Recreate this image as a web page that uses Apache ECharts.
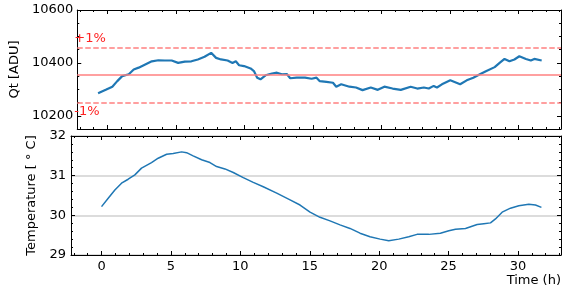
<!DOCTYPE html>
<html>
<head>
<meta charset="utf-8">
<script src="https://cdn.jsdelivr.net/npm/echarts@6/dist/echarts.min.js"></script>
<style>
  html, body { margin: 0; padding: 0; background: #fff; }
  #chart { width: 562px; height: 296px; }
</style>
</head>
<body>
<div id="chart"></div>
<script>
// Qt readout (top panel)
const qtTime = [-0.68, -0.12, 0.36, 0.72, 1.08, 1.56, 1.92, 2.28, 2.76, 3.24, 3.72, 4.2, 4.69, 5.16, 5.65, 6.13,
    6.6, 7.09, 7.57, 7.93, 8.29, 8.77, 9.13, 9.37, 9.61, 9.97, 10.45, 10.69, 10.93, 11.17, 11.54, 12.01,
    12.37, 12.73, 13.09, 13.34, 13.81, 14.42, 14.9, 15.26, 15.5, 15.98, 16.46, 16.7, 17.06, 17.66, 18.14,
    18.62, 19.22, 19.73, 20.21, 20.81, 21.41, 22.13, 22.61, 23.09, 23.45, 23.81, 24.05, 24.41, 25.02,
    25.74, 26.22, 26.7, 27.18, 27.66, 28.26, 28.62, 28.98, 29.34, 29.7, 30.06, 30.54, 30.9, 31.15, 31.69];
const qtValue = [10285, 10298, 10310, 10331, 10350, 10357, 10375, 10382, 10394, 10406, 10410, 10409, 10409, 10400, 10405, 10406,
    10413, 10423, 10438, 10419, 10413, 10409, 10400, 10406, 10391, 10388, 10379, 10369, 10344, 10338, 10353, 10360,
    10363, 10357, 10358, 10342, 10344, 10344, 10340, 10344, 10331, 10328, 10325, 10310, 10319, 10310, 10307,
    10297, 10307, 10298, 10310, 10303, 10298, 10310, 10303, 10307, 10303, 10313, 10307, 10319, 10334,
    10319, 10334, 10344, 10357, 10369, 10384, 10400, 10415, 10406, 10413, 10425, 10415, 10409, 10415, 10409];
const qtMean = 10354;

// temperature (bottom panel)
const tempTime = [0, 0.48, 0.96, 1.44, 1.92, 2.4, 2.88, 3.6, 4.08, 4.69, 5.16, 5.77, 6.13, 6.6, 7.21, 7.81, 8.29,
    8.89, 9.49, 10.21, 10.93, 11.65, 12.62, 13.58, 14.3, 15.02, 15.74, 16.46, 17.18, 17.9, 18.62, 19.34, 20.07,
    20.69, 21.41, 22.13, 22.73, 23.58, 24.41, 25.02, 25.5, 26.22, 27.06, 27.54, 28.02, 28.38, 28.86, 29.46,
    30.06, 30.78, 31.26, 31.69];
const tempValue = [30.22, 30.43, 30.64, 30.81, 30.91, 31.02, 31.19, 31.33, 31.44, 31.54, 31.56, 31.60, 31.58, 31.50, 31.40, 31.33, 31.23,
    31.17, 31.08, 30.95, 30.83, 30.72, 30.56, 30.39, 30.26, 30.08, 29.95, 29.86, 29.76, 29.67, 29.55, 29.46, 29.40,
    29.36, 29.40, 29.46, 29.52, 29.52, 29.55, 29.61, 29.65, 29.67, 29.77, 29.79, 29.81, 29.91, 30.08, 30.18,
    30.24, 30.28, 30.26, 30.20];

const font = 'DejaVu Sans';
const blue = '#1f77b4';
const pink = '#ff8080';

function frameAxis(extra) {
    return Object.assign({
        axisLine: { show: true, onZero: false, lineStyle: { color: '#000', width: 1 } },
        axisTick: { show: true, inside: true, length: 4, lineStyle: { color: '#000' } },
        minorTick: { show: true, length: 2, lineStyle: { color: '#000' } },
        splitLine: { show: false },
        axisLabel: { show: false }
    }, extra);
}

const tickLabel = { show: true, color: '#000', fontFamily: font, fontSize: 13, showMinLabel: false, showMaxLabel: false,
    formatter: v => String(v) };

const chart = echarts.init(document.getElementById('chart'));
chart.setOption({
    animation: false,
    grid: [
        { left: 71, top: 10, width: 490, height: 119 },
        { left: 71, top: 136, width: 490, height: 119 }
    ],
    xAxis: [
        frameAxis({ type: 'value', gridIndex: 0, position: 'bottom', min: -2.2, max: 33.1, splitNumber: 7, minorTick: { show: true, splitNumber: 5, length: 2, lineStyle: { color: '#000' } } }),
        frameAxis({ type: 'value', gridIndex: 0, position: 'top', min: -2.2, max: 33.1, splitNumber: 7, minorTick: { show: true, splitNumber: 5, length: 2, lineStyle: { color: '#000' } } }),
        frameAxis({ type: 'value', gridIndex: 1, position: 'bottom', min: -2.2, max: 33.1, splitNumber: 7,
            minorTick: { show: true, splitNumber: 5, length: 2, lineStyle: { color: '#000' } },
            axisLabel: Object.assign({}, tickLabel, { margin: 5 }),
            name: 'Time (h)', nameLocation: 'end', nameGap: 0,
            nameTextStyle: { color: '#000', fontFamily: font, fontSize: 13, align: 'right', verticalAlign: 'top', padding: [19, 0, 0, 0] } }),
        frameAxis({ type: 'value', gridIndex: 1, position: 'top', min: -2.2, max: 33.1, splitNumber: 7, minorTick: { show: true, splitNumber: 5, length: 2, lineStyle: { color: '#000' } } })
    ],
    yAxis: [
        frameAxis({ type: 'value', gridIndex: 0, position: 'left', min: 10150, max: 10600, splitNumber: 2,
            minorTick: { show: true, splitNumber: 4, length: 2, lineStyle: { color: '#000' } },
            axisLabel: Object.assign({}, tickLabel, { showMaxLabel: true, margin: 4 }),
            name: 'Qt [ADU]', nameLocation: 'middle', nameGap: 52,
            nameTextStyle: { color: '#000', fontFamily: font, fontSize: 13 } }),
        frameAxis({ type: 'value', gridIndex: 0, position: 'right', min: 10150, max: 10600, splitNumber: 2,
            minorTick: { show: true, splitNumber: 4, length: 2, lineStyle: { color: '#000' } } }),
        frameAxis({ type: 'value', gridIndex: 1, position: 'left', min: 29, max: 32, interval: 1,
            minorTick: { show: true, splitNumber: 5, length: 2, lineStyle: { color: '#000' } },
            splitLine: { show: true, lineStyle: { color: '#d0d0d0', width: 1.5 } },
            axisLabel: Object.assign({}, tickLabel, { showMinLabel: true, showMaxLabel: true, margin: 5 }),
            name: 'Temperature [ ° C]', nameLocation: 'middle', nameGap: 28,
            nameTextStyle: { color: '#000', fontFamily: font, fontSize: 13 } }),
        frameAxis({ type: 'value', gridIndex: 1, position: 'right', min: 29, max: 32, interval: 1,
            minorTick: { show: true, splitNumber: 5, length: 2, lineStyle: { color: '#000' } } })
    ],
    series: [
        {
            type: 'line',
            xAxisIndex: 0,
            yAxisIndex: 0,
            data: qtTime.map((t, i) => [t, qtValue[i]]),
            showSymbol: false,
            lineStyle: { color: blue, width: 2.2 },
            itemStyle: { color: blue },
            z: 3,
            markLine: {
                silent: true,
                symbol: 'none',
                animation: false,
                data: [
                    { yAxis: qtMean, lineStyle: { color: pink, width: 1.5, type: 'solid' }, label: { show: false } },
                    { yAxis: qtMean * 1.01, lineStyle: { color: pink, width: 1.5, type: [5.5, 2.5] },
                        label: { show: true, formatter: '+1%', position: 'insideStartTop', distance: [-3, 3], color: '#f22', fontFamily: font, fontSize: 13 } },
                    { yAxis: qtMean * 0.99, lineStyle: { color: pink, width: 1.5, type: [5.5, 2.5] },
                        label: { show: true, formatter: '-1%', position: 'insideStartBottom', distance: [-3, 3], color: '#f22', fontFamily: font, fontSize: 13 } }
                ]
            }
        },
        {
            type: 'line',
            xAxisIndex: 2,
            yAxisIndex: 2,
            data: tempTime.map((t, i) => [t, tempValue[i]]),
            showSymbol: false,
            lineStyle: { color: blue, width: 1.5 },
            itemStyle: { color: blue }
        }
    ]
});
</script>
</body>
</html>
